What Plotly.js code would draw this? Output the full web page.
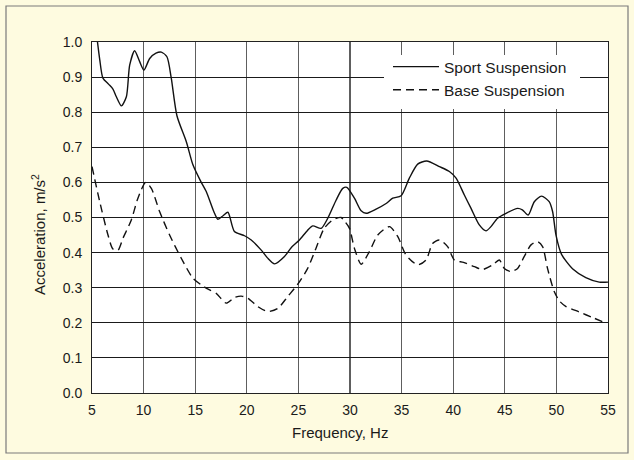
<!DOCTYPE html>
<html>
<head>
<meta charset="utf-8">
<script src="https://cdn.plot.ly/plotly-3.0.1.min.js"></script>
<style>
  html, body { margin: 0; padding: 0; background: #fefbe0; }
  #chart { width: 634px; height: 460px; }
</style>
</head>
<body>
<div id="chart"></div>
<script>
// Sport Suspension curve (frequency in Hz, acceleration in m/s^2)
const sportFreq = [5.45, 5.75, 6.06, 6.6, 7.03, 7.36, 7.85, 8.33, 8.65, 9.13, 9.62, 10.03, 10.59, 11.2, 11.72, 12.26, 12.68, 13.23, 14.14, 14.78, 15.5, 16.07, 16.8, 17.2, 17.7, 18.17, 18.8, 19.78, 20.43, 21.4, 22.0, 22.69, 23.65, 24.3, 25.1, 25.9, 26.4, 27.2, 27.85, 28.66, 29.3, 29.69, 30.43, 31.08, 31.56, 32.53, 33.5, 34.14, 34.95, 35.75, 36.56, 37.43, 38.66, 39.63, 40.28, 41.08, 41.73, 42.53, 43.18, 43.66, 44.3, 45.12, 46.24, 46.7, 47.27, 47.86, 48.56, 49.3, 49.63, 49.96, 50.5, 51.56, 52.85, 54.15, 55.0];
const sportAccel = [1.02, 0.95, 0.897, 0.880, 0.866, 0.844, 0.818, 0.844, 0.934, 0.975, 0.944, 0.920, 0.953, 0.968, 0.971, 0.958, 0.897, 0.790, 0.716, 0.650, 0.605, 0.574, 0.517, 0.495, 0.505, 0.515, 0.460, 0.448, 0.436, 0.407, 0.385, 0.368, 0.389, 0.414, 0.436, 0.464, 0.476, 0.469, 0.498, 0.550, 0.583, 0.586, 0.555, 0.519, 0.512, 0.524, 0.540, 0.555, 0.562, 0.612, 0.652, 0.661, 0.645, 0.631, 0.612, 0.564, 0.526, 0.479, 0.462, 0.474, 0.498, 0.512, 0.526, 0.522, 0.507, 0.545, 0.561, 0.545, 0.517, 0.450, 0.395, 0.354, 0.329, 0.316, 0.316];

// Base Suspension curve
const baseFreq = [5.0, 5.75, 6.55, 7.03, 7.52, 8.0, 8.81, 9.45, 10.2, 10.75, 11.55, 12.52, 13.65, 14.78, 15.59, 16.3, 17.04, 18.0, 18.8, 19.46, 20.1, 21.07, 22.04, 23.0, 23.97, 24.94, 25.9, 26.7, 27.5, 28.33, 29.14, 29.46, 29.95, 30.43, 31.08, 31.88, 32.69, 33.82, 34.62, 35.43, 36.56, 37.37, 38.0, 38.66, 39.46, 40.11, 41.0, 42.05, 42.85, 43.82, 44.47, 44.95, 45.6, 46.24, 46.89, 47.54, 48.18, 48.66, 49.14, 49.79, 50.3, 50.9, 52.2, 53.5, 54.9];
const baseAccel = [0.645, 0.545, 0.450, 0.410, 0.407, 0.441, 0.493, 0.555, 0.600, 0.583, 0.517, 0.450, 0.384, 0.327, 0.308, 0.295, 0.284, 0.256, 0.272, 0.276, 0.270, 0.246, 0.232, 0.241, 0.275, 0.310, 0.355, 0.412, 0.469, 0.493, 0.500, 0.490, 0.469, 0.412, 0.367, 0.403, 0.450, 0.474, 0.446, 0.393, 0.365, 0.379, 0.426, 0.436, 0.417, 0.379, 0.372, 0.360, 0.352, 0.365, 0.379, 0.355, 0.346, 0.355, 0.389, 0.422, 0.431, 0.417, 0.355, 0.289, 0.262, 0.247, 0.231, 0.215, 0.198];

// Axis ticks
const xTicks = [5, 10, 15, 20, 25, 30, 35, 40, 45, 50, 55];
const yTicks = [0.0, 0.1, 0.2, 0.3, 0.4, 0.5, 0.6, 0.7, 0.8, 0.9, 1.0];
const yTickText = yTicks.map(v => v.toFixed(1));

const seriesNames = ['Sport Suspension', 'Base Suspension'];

const FONT = 'Liberation Sans, Arial, Helvetica, sans-serif';

// plot area in pixels: left 92, top 42, width 516, height 351
const px = v => (v - 92) / 516;
const py = v => (393 - v) / 351;

const traces = [
  {
    x: sportFreq, y: sportAccel, name: seriesNames[0], type: 'scatter', mode: 'lines',
    line: { color: '#111', width: 1.4, shape: 'spline', smoothing: 0.7 },
    legendgroup: 'a'
  },
  {
    x: baseFreq, y: baseAccel, name: seriesNames[1], type: 'scatter', mode: 'lines',
    line: { color: '#111', width: 1.4, dash: '8px,5px', shape: 'spline', smoothing: 0.7 },
    legendgroup: 'b'
  }
];

const layout = {
  width: 634, height: 460,
  margin: { l: 92, r: 26, t: 42, b: 67 },
  paper_bgcolor: '#fefbe0',
  plot_bgcolor: '#ffffff',
  font: { family: FONT, size: 14, color: '#1a1a1a' },
  showlegend: true,
  legend: {
    x: px(388), y: py(50), xanchor: 'left', yanchor: 'top',
    bgcolor: 'rgba(255,255,255,0)', borderwidth: 0,
    font: { family: FONT, size: 15.5, color: '#1a1a1a' },
    tracegroupgap: 0,
    itemwidth: 46
  },
  xaxis: {
    range: [5, 55], tickvals: xTicks, ticktext: xTicks.map(String),
    showgrid: true, gridcolor: '#5e5e5e', gridwidth: 1.2,
    showline: true, linecolor: '#222', linewidth: 1, mirror: true,
    zeroline: false, ticks: 'outside', ticklen: 4, tickcolor: 'rgba(0,0,0,0)',
    tickfont: { family: FONT, size: 14, color: '#1a1a1a' }, fixedrange: true
  },
  yaxis: {
    range: [0, 1], tickvals: yTicks, ticktext: yTickText,
    showgrid: true, gridcolor: '#1a1a1a', gridwidth: 1,
    showline: true, linecolor: '#222', linewidth: 1, mirror: true,
    zeroline: false, ticks: 'outside', ticklen: 6, tickcolor: 'rgba(0,0,0,0)',
    tickfont: { family: FONT, size: 14, color: '#1a1a1a' }, fixedrange: true
  },
  annotations: [
    {
      text: 'Frequency, Hz', xref: 'paper', yref: 'paper',
      x: px(340), y: py(433), xanchor: 'center', yanchor: 'middle', showarrow: false,
      font: { family: FONT, size: 15, color: '#1a1a1a' }
    },
    {
      text: 'Acceleration, m/s<sup>2</sup>', xref: 'paper', yref: 'paper',
      x: px(38), y: py(235), xanchor: 'center', yanchor: 'middle', showarrow: false,
      textangle: -90,
      font: { family: FONT, size: 15, color: '#1a1a1a' }
    }
  ],
  shapes: [
    {
      type: 'rect', xref: 'paper', yref: 'paper',
      x0: px(6), x1: px(628), y0: py(453), y1: py(6),
      line: { color: '#7a7a7a', width: 1.2 }, fillcolor: 'rgba(0,0,0,0)', layer: 'below'
    },
    {
      type: 'rect', xref: 'paper', yref: 'paper',
      x0: px(384), x1: px(580), y0: py(109), y1: py(55),
      line: { width: 0 }, fillcolor: '#ffffff', layer: 'above'
    }
  ]
};

Plotly.newPlot('chart', traces, layout, { displayModeBar: false, staticPlot: true });
</script>
</body>
</html>
